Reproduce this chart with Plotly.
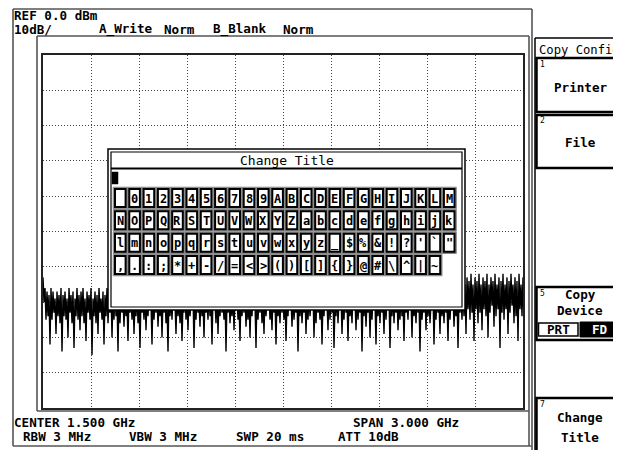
import plotly.graph_objects as go

# The page body has an 8px default margin; the figure is laid out so that
# reference pixel (px, py) lands at the same place in the screenshot.
PAGE_W, PAGE_H = 621, 450
OFF = 8
W, H = PAGE_W - OFF, PAGE_H - OFF
MONO = "DejaVu Sans Mono"

# ---------------- data ----------------
start_mhz = 0.0
stop_mhz = 3000.0
ref_dbm = 0.0
db_per_div = 10

trace_a_dbm = [
    -63, -70, -66, -75, -67, -74, -68, -82, -66, -75, -67, -73, -69, -79, -67, -74, -68, -76, -66, -84,
    -68, -74, -67, -75, -69, -80, -66, -73, -68, -76, -67, -83, -69, -74, -66, -75, -68, -78, -67, -74,
    -66, -76, -69, -81, -67, -73, -68, -75, -66, -85, -69, -74, -67, -76, -68, -79, -66, -73, -69, -75,
    -67, -82, -68, -74, -66, -76, -69, -73, -67, -80, -68, -75, -66, -74, -69, -84, -67, -76, -68, -73,
    -69, -77, -68, -74, -70, -81, -67, -73, -69, -75, -68, -79, -70, -74, -67, -76, -69, -83, -68, -73,
    -70, -75, -67, -78, -69, -74, -68, -72, -70, -82, -67, -75, -69, -73, -68, -77, -70, -74, -67, -80,
    -69, -73, -68, -76, -70, -84, -67, -74, -69, -75, -68, -72, -70, -79, -67, -74, -69, -76, -68, -81,
    -70, -73, -67, -75, -69, -78, -68, -74, -70, -72, -67, -83, -69, -75, -68, -73, -70, -77, -67, -74,
    -69, -80, -68, -73, -70, -75, -67, -74, -69, -82, -68, -72, -70, -76, -67, -79, -69, -74, -68, -73,
    -70, -75, -67, -84, -69, -73, -68, -76, -70, -74, -67, -78, -69, -72, -68, -75, -70, -81, -67, -74,
    -69, -73, -68, -77, -70, -75, -67, -80, -69, -74, -68, -72, -70, -83, -67, -75, -69, -73, -68, -76,
    -70, -79, -67, -74, -69, -72, -68, -75, -70, -78, -67, -73, -69, -82, -68, -74, -70, -76, -67, -73,
    -69, -75, -68, -81, -70, -74, -67, -72, -69, -77, -68, -75, -70, -73, -67, -84, -69, -74, -68, -76,
    -70, -73, -67, -79, -69, -75, -68, -74, -70, -72, -67, -80, -69, -76, -68, -73, -70, -75, -67, -82,
    -69, -74, -68, -72, -70, -78, -67, -75, -69, -73, -68, -83, -70, -74, -67, -76, -69, -72, -68, -79,
    -70, -75, -67, -73, -69, -81, -68, -74, -70, -76, -67, -72, -69, -78, -68, -75, -70, -73, -67, -84,
    -69, -74, -68, -77, -70, -73, -67, -80, -69, -75, -68, -72, -70, -82, -67, -74, -69, -76, -68, -73,
    -70, -79, -67, -75, -69, -72, -68, -83, -70, -74, -67, -76, -69, -73, -68, -78, -70, -75, -67, -74,
    -69, -81, -68, -73, -70, -75, -67, -72, -69, -80, -68, -74, -70, -76, -67, -73, -69, -84, -68, -75,
    -70, -73, -67, -78, -69, -74, -68, -76, -70, -72, -67, -82, -69, -75, -68, -73, -70, -79, -67, -74,
    -69, -76, -68, -73, -70, -81, -67, -75, -69, -72, -68, -77, -70, -74, -67, -83, -69, -73, -68, -75,
    -66, -74, -65, -79, -63, -72, -64, -75, -62, -73, -65, -81, -63, -72, -64, -76, -62, -73, -65, -78,
    -63, -72, -64, -74, -62, -80, -65, -73, -63, -71, -64, -77, -62, -74, -65, -72, -63, -83, -64, -73,
    -62, -75, -65, -72, -63, -79, -64, -73, -62, -71, -65, -76, -63, -74, -64, -81, -62, -72, -65, -74,
    -63,
]

header_texts = ["REF 0.0 dBm", "10dB/", "A_Write", "Norm", "B_Blank", "Norm"]
footer_texts = ["CENTER 1.500 GHz", "SPAN 3.000 GHz", "RBW 3 MHz", "VBW 3 MHz", "SWP 20 ms", "ATT 10dB"]

menu_title = "Copy Config"
softkeys = {1: ["Printer"], 2: ["File"], 5: ["Copy", "Device"], 7: ["Change", "Title"]}
device_options = ["PRT", "FD"]

dialog_title = "Change Title"
key_rows = [
    [" "] + list("0123456789") + list("ABCDEFGHIJKLM"),
    list("NOPQRSTUVWXYZ") + list("abcdefghijk"),
    list("lmnopqrstuvwxyz") + ["_", "$", "%", "&", "!", "?", "'", "`", '"'],
    list(",.:;*+-/=<>()[]{}@#\\^|~"),
]

# ---------------- figure ----------------
n = len(trace_a_dbm)
freqs = [start_mhz + i * (stop_mhz - start_mhz) / (n - 1) for i in range(n)]

fig = go.Figure()
fig.add_trace(go.Scatter(x=freqs, y=trace_a_dbm, mode="lines",
                         line=dict(color="black", width=1.4),
                         hoverinfo="skip", showlegend=False))

shapes = []
annots = []


def X(px):
    return (px - OFF) / W


def Y(py):
    return 1 - (py - OFF) / H


def rect(x0, y0, x1, y1, color="black", lw=1.0, fill=None):
    shapes.append(dict(type="rect", xref="paper", yref="paper",
                       x0=X(x0), x1=X(x1), y0=Y(y1), y1=Y(y0),
                       line=dict(color=color, width=lw),
                       fillcolor=fill if fill else "rgba(0,0,0,0)",
                       layer="above"))


def seg(x0, y0, x1, y1, color="black", lw=1.0):
    shapes.append(dict(type="line", xref="paper", yref="paper",
                       x0=X(x0), x1=X(x1), y0=Y(y0), y1=Y(y1),
                       line=dict(color=color, width=lw), layer="above"))


def esc(s):
    return s.replace("&", "&amp;").replace("<", "&lt;").replace(">", "&gt;")


def text(x, y, s, size=12.6, anchor="left", color="black", weight="bold"):
    annots.append(dict(x=X(x), y=Y(y), xref="paper", yref="paper",
                       text=esc(s), showarrow=False, xanchor=anchor,
                       yanchor="middle", borderpad=0,
                       font=dict(family=MONO, size=size, color=color, weight=weight)))


FRAME = "#555555"
# outer frames
seg(13, 9, 532, 9, FRAME, 1.6)
seg(13, 9, 13, 446, FRAME, 1.6)
seg(532, 9, 532, 450, FRAME, 1.6)
seg(13, 446, 532, 446, FRAME, 1.6)
seg(37, 36, 529, 36, FRAME, 1.6)
seg(37, 36, 37, 411, FRAME, 1.6)
seg(529, 36, 529, 446, FRAME, 1.6)
seg(37, 411, 529, 411, FRAME, 1.6)

# header / footer text
text(13, 15.5, header_texts[0])
text(13, 29, header_texts[1])
text(98, 29, header_texts[2])
text(163, 29, header_texts[3])
text(212, 29, header_texts[4])
text(282, 29, header_texts[5])
text(13, 422.5, footer_texts[0])
text(352, 422.5, footer_texts[1])
text(22, 436, footer_texts[2])
text(128, 436, footer_texts[3])
text(235, 436, footer_texts[4])
text(337, 436, footer_texts[5])

# softkey panel
seg(535, 38, 535, 450, "black", 1.5)
seg(535, 38, 621, 38, "black", 1.5)
text(538, 50, menu_title, size=12.2, weight="normal")
key_boxes = {1: (58, 112), 2: (115, 168), 5: (287, 340), 7: (398, 458)}
for k, (t, b) in key_boxes.items():
    rect(536.5, t, 630, b, "black", 2.5, "white")
    text(539, t + 6, str(k), size=8, weight="normal")
labels_y = {1: [87], 2: [142], 5: [294, 310], 7: [417, 437]}
for k, lines in softkeys.items():
    for s, yy in zip(lines, labels_y[k]):
        text(580, yy, s, size=12.6, anchor="center")
rect(538.5, 323, 578, 336, "black", 1.5, "white")
rect(580, 322, 625, 337, "black", 1, "black")
text(558, 329.5, device_options[0], size=12.6, anchor="center")
text(600, 329.5, device_options[1], size=12.6, anchor="center", color="white")

# dialog
rect(108, 149, 465, 310, "black", 1.5, "white")
rect(111, 152, 462, 307, "black", 1.2, "white")
seg(111, 168.5, 462, 168.5, "black", 2)
text(287, 160, dialog_title, size=13, anchor="center", weight="normal")
rect(112, 172, 118, 184, "black", 0.5, "black")

row_tops = [188, 210.3, 232.7, 255]
pitch = 14.3
kw = 12.6
kh = 20
for r, row in enumerate(key_rows):
    y0 = row_tops[r]
    for i, ch in enumerate(row):
        x0 = 114 + i * pitch
        rect(x0 - 0.8, y0 - 0.8, x0 + kw + 0.8, y0 + kh + 0.8, "#8a8a8a", 1, "#8a8a8a")
        rect(x0 + 1, y0 + 1, x0 + kw - 1, y0 + kh - 1, "black", 2, "white")
        if ch.strip():
            text(x0 + kw / 2, y0 + kh / 2 + 0.5, ch, size=12, anchor="center")

fig.update_layout(
    width=W, height=H, margin=dict(l=0, r=0, t=0, b=0),
    paper_bgcolor="white", plot_bgcolor="white",
    showlegend=False, shapes=shapes, annotations=annots,
    xaxis=dict(domain=[X(43), X(523)], range=[start_mhz, stop_mhz],
               tick0=start_mhz, dtick=(stop_mhz - start_mhz) / 10,
               showgrid=True, gridcolor="#444444", gridwidth=1, griddash="1px,2px",
               showticklabels=False, ticks="", zeroline=False,
               showline=True, mirror=True, linecolor="#222222", linewidth=1.6,
               fixedrange=True),
    yaxis=dict(domain=[Y(408), Y(55)],
               range=[ref_dbm - 10 * db_per_div, ref_dbm],
               tick0=ref_dbm, dtick=db_per_div,
               showgrid=True, gridcolor="#444444", gridwidth=1, griddash="1px,2px",
               showticklabels=False, ticks="", zeroline=False,
               showline=True, mirror=True, linecolor="#222222", linewidth=1.6,
               fixedrange=True),
)

fig.write_html("out.html")
